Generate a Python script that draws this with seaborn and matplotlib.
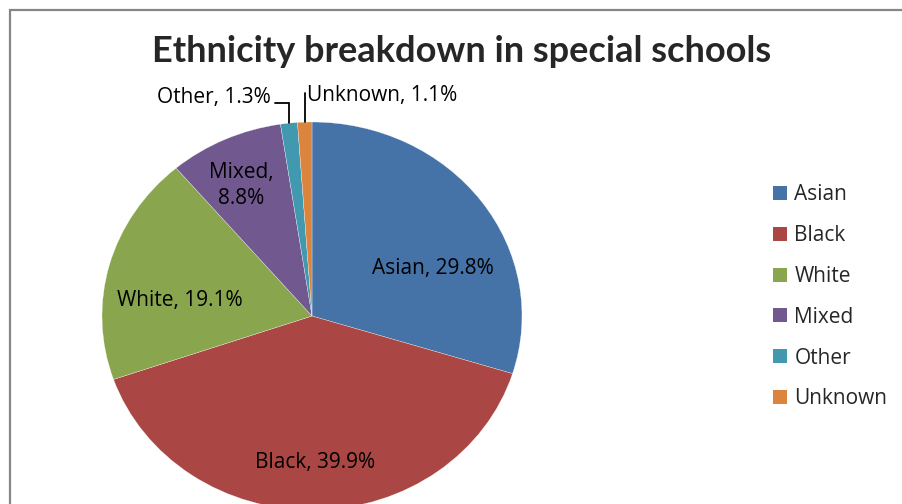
import matplotlib
matplotlib.use("Agg")
import matplotlib.pyplot as plt
from matplotlib.patches import Rectangle, Patch
import numpy as np
import seaborn as sns

# Share of pupils in special schools by ethnic group (%)
groups = ["Asian", "Black", "White", "Mixed", "Other", "Unknown"]
shares = [29.8, 39.9, 19.1, 8.8, 1.3, 1.1]
colors = ["#4572A7", "#AA4643", "#89A54E", "#71588F", "#4198AF", "#DB843D"]

sns.set_theme(style="white")
plt.rcParams["font.family"] = ["Open Sans", "DejaVu Sans"]
palette = sns.color_palette(colors)

W, H = 903, 504
fig = plt.figure(figsize=(W / 100, H / 100), dpi=100)

# Pie occupies an (slightly stretched) ellipse centred at (312, 316) px
cx, cy, rx, ry = 312, 316, 210, 194
ax = fig.add_axes([(cx - rx) / W, (H - (cy + ry)) / H, 2 * rx / W, 2 * ry / H])
wedges, _ = ax.pie(shares, colors=palette, startangle=90, counterclock=False,
                   radius=1.0, wedgeprops=dict(edgecolor="white", linewidth=0.2))
ax.set_aspect("auto")
ax.set_xlim(-1, 1)
ax.set_ylim(-1, 1)
ax.axis("off")

labels = [f"{g}, {v}%" for g, v in zip(groups, shares)]
labels[3] = f"{groups[3]},\n{shares[3]}%"

lab_kw = dict(fontsize=15, color="black", va="center")
# label anchor points in data units of the pie axes
ax.text(0.576, 0.247, labels[0], ha="center", **lab_kw)
ax.text(0.014, -0.753, labels[1], ha="center", **lab_kw)
ax.text(-0.629, 0.082, labels[2], ha="center", **lab_kw)
ax.text(-0.338, 0.672, labels[3], ha="center", linespacing=1.3, **lab_kw)
ax.text(-0.195, 1.128, labels[4], ha="right", **lab_kw)
ax.text(-0.022, 1.135, labels[5], ha="left", **lab_kw)

# leader lines for the two thin slices, ending at the wedge mid-angles
def mid_point(w):
    ang = np.deg2rad((w.theta1 + w.theta2) / 2)
    return np.cos(ang), np.sin(ang)

ox, oy = mid_point(wedges[4])
ax.plot([-0.176, ox, ox], [1.098, 1.098, oy], color="black", lw=1.3,
        clip_on=False, solid_joinstyle="miter")
ux, uy = mid_point(wedges[5])
ax.plot([ux, ux], [1.150, uy], color="black", lw=1.3, clip_on=False)

# title
fig.text(462 / W, 1 - 51 / H, "Ethnicity breakdown in special schools",
         ha="center", va="center", fontsize=26, fontweight="bold",
         family=["Lato", "DejaVu Sans"])

# legend
handles = [Patch(facecolor=c, edgecolor="none") for c in palette]
fig.legend(handles, groups, loc="upper left",
           bbox_to_anchor=(765 / W, 1 - 176 / H), frameon=False,
           fontsize=15, handlelength=0.67, handleheight=0.67,
           handletextpad=0.34, labelspacing=0.95, borderaxespad=0)

# chart frame (extends past the right and bottom edges)
fig.add_artist(Rectangle((10 / W, -0.2), 1.2, 1 - 10 / H + 0.2,
                         transform=fig.transFigure, fill=False,
                         edgecolor="#868686", linewidth=1.6))

fig.savefig("out.png", dpi=100)
